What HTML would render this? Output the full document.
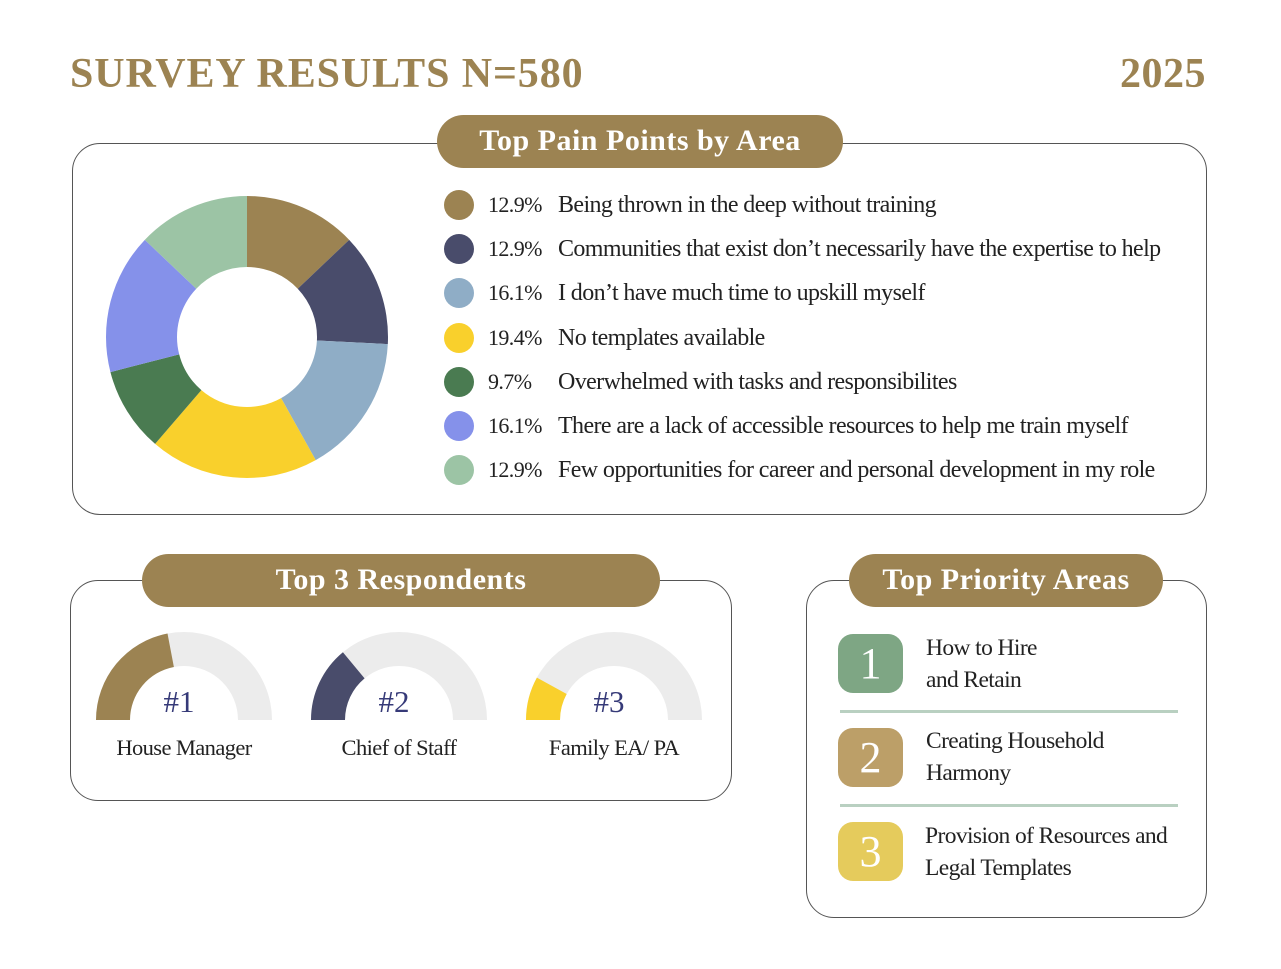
<!DOCTYPE html>
<html><head><meta charset="utf-8"><style>
body{margin:0;background:#fff;width:1281px;height:969px;overflow:hidden;position:relative;font-family:"Liberation Serif",serif;}
.a{position:absolute;}
.panel{position:absolute;border:1.3px solid #555;border-radius:28px;box-sizing:border-box;}
.pill{position:absolute;background:#9c8352;border-radius:27px;color:#fff;font-size:30px;font-weight:bold;text-align:center;box-sizing:border-box;letter-spacing:0.5px;}
.txt{font-size:24px;color:#222;letter-spacing:-0.6px;white-space:nowrap;}
.ptxt{font-size:23.5px;color:#222;letter-spacing:-0.6px;white-space:nowrap;}
.box{position:absolute;width:65px;height:59px;border-radius:15px;color:#fff;font-size:44px;text-align:center;line-height:59px;}
.line{position:absolute;left:840px;width:338px;height:3px;background:#b9d0c1;}
</style></head><body>
<div class="a" style="left:70px;top:50px;font-size:42px;font-weight:bold;color:#9c8352;letter-spacing:0.9px;line-height:48px;">SURVEY RESULTS N=580</div>
<div class="a" style="right:75px;top:50px;font-size:42px;font-weight:bold;color:#9c8352;letter-spacing:0.5px;line-height:48px;">2025</div>

<div class="panel" style="left:72px;top:143px;width:1135px;height:372px;"></div>
<div class="pill" style="left:437px;top:115px;width:406px;height:53px;line-height:52px;">Top Pain Points by Area</div>
<svg class="a" id="donut" style="left:0;top:0" width="450" height="520"></svg>
<div id="legend"></div>

<div class="panel" style="left:70px;top:580px;width:662px;height:221px;"></div>
<div class="pill" style="left:142px;top:554px;width:518px;height:53px;line-height:52px;">Top 3 Respondents</div>
<svg class="a" id="gauges" style="left:0;top:600px" width="760" height="180"></svg>

<div class="panel" style="left:806px;top:580px;width:401px;height:338px;"></div>
<div class="pill" style="left:849px;top:554px;width:314px;height:53px;line-height:52px;">Top Priority Areas</div>
<div class="box" style="left:838px;top:634px;background:#7ea684;">1</div>
<div class="a ptxt" style="left:926px;top:632px;line-height:32px;">How to Hire<br>and Retain</div>
<div class="line" style="top:710px;"></div>
<div class="box" style="left:838px;top:728px;background:#bc9f68;">2</div>
<div class="a ptxt" style="left:926px;top:725px;line-height:32px;">Creating Household<br>Harmony</div>
<div class="line" style="top:804px;"></div>
<div class="box" style="left:838px;top:822px;background:#e5cb5c;">3</div>
<div class="a ptxt" style="left:925px;top:820px;line-height:32px;">Provision of Resources and<br>Legal Templates</div>

<script>
const categories=["Being thrown in the deep without training","Communities that exist don\u2019t necessarily have the expertise to help","I don\u2019t have much time to upskill myself","No templates available","Overwhelmed with tasks and responsibilites","There are a lack of accessible resources to help me train myself","Few opportunities for career and personal development in my role"];
const values=[12.9,12.9,16.1,19.4,9.7,16.1,12.9];
const colors=["#9c8352","#494c6b","#8fadc6","#f9d02c","#4a7b51","#8591ea","#9cc4a5"];
const gaugeLabels=["House Manager","Chief of Staff","Family EA/ PA"];
const gaugeRanks=["#1","#2","#3"];
const gaugeValues=[0.44,0.28,0.16];
const gaugeColors=["#9c8352","#494c6b","#f9d02c"];
const NS="http://www.w3.org/2000/svg";
const donut=document.getElementById('donut');
const cx=247,cy=337,R=141,r=70;
const total=values.reduce((a,b)=>a+b,0);
function pt(rad,ang){return [cx+rad*Math.sin(ang),cy-rad*Math.cos(ang)];}
let acc=0;
values.forEach((v,i)=>{
  const a0=acc/total*2*Math.PI; acc+=v; const a1=acc/total*2*Math.PI;
  const large=(a1-a0)>Math.PI?1:0;
  const p1=pt(R,a0),p2=pt(R,a1),p3=pt(r,a1),p4=pt(r,a0);
  const p=document.createElementNS(NS,'path');
  p.setAttribute('d',`M${p1}A${R},${R} 0 ${large} 1 ${p2}L${p3}A${r},${r} 0 ${large} 0 ${p4}Z`);
  p.setAttribute('fill',colors[i]);
  
  
  donut.appendChild(p);
});
const leg=document.getElementById('legend');
categories.forEach((c,i)=>{
  const y=205+i*44.2;
  const d=document.createElement('div');
  d.className='a';
  d.style.cssText=`left:444px;top:${y-15}px;width:30px;height:30px;border-radius:50%;background:${colors[i]};`;
  
  
  leg.appendChild(d);
  const p=document.createElement('div');
  p.className='a txt';
  p.style.cssText=`left:488px;top:${y-14}px;line-height:28px;font-size:22px;`;
  p.textContent=values[i].toFixed(1)+'%';
  
  
  leg.appendChild(p);
  const t=document.createElement('div');
  t.className='a txt';
  t.style.cssText=`left:558px;top:${y-14}px;line-height:28px;`;
  t.textContent=c;
  
  
  leg.appendChild(t);
});
const g=document.getElementById('gauges');
const gx=[184,399,614],gy=120,GR=88,gr=54;
function arc(x,f0,f1){
  const a0=Math.PI*(1-f0),a1=Math.PI*(1-f1);
  const P=(rad,a)=>[x+rad*Math.cos(a),gy-rad*Math.sin(a)];
  return `M${P(GR,a0)}A${GR},${GR} 0 0 1 ${P(GR,a1)}L${P(gr,a1)}A${gr},${gr} 0 0 0 ${P(gr,a0)}Z`;
}
gaugeValues.forEach((v,i)=>{
  const bg=document.createElementNS(NS,'path');
  bg.setAttribute('d',arc(gx[i],0,1));bg.setAttribute('fill','#ececec');
  
  
  g.appendChild(bg);
  const fg=document.createElementNS(NS,'path');
  fg.setAttribute('d',arc(gx[i],0,v));fg.setAttribute('fill',gaugeColors[i]);
  
  
  g.appendChild(fg);
  const t=document.createElementNS(NS,'text');
  t.setAttribute('x',gx[i]-5);t.setAttribute('y',gy-8);t.setAttribute('text-anchor','middle');
  t.setAttribute('font-size','31');t.setAttribute('fill','#363a78');t.setAttribute('font-family','Liberation Serif, serif');
  t.textContent=gaugeRanks[i];
  
  
  g.appendChild(t);
  const l=document.createElementNS(NS,'text');
  l.setAttribute('x',gx[i]);l.setAttribute('y',gy+35);l.setAttribute('text-anchor','middle');
  l.setAttribute('font-size','22.5');l.setAttribute('fill','#222');l.setAttribute('letter-spacing','-0.6');l.setAttribute('font-family','Liberation Serif, serif');
  l.textContent=gaugeLabels[i];
  
  
  g.appendChild(l);
});
</script>
</body></html>
